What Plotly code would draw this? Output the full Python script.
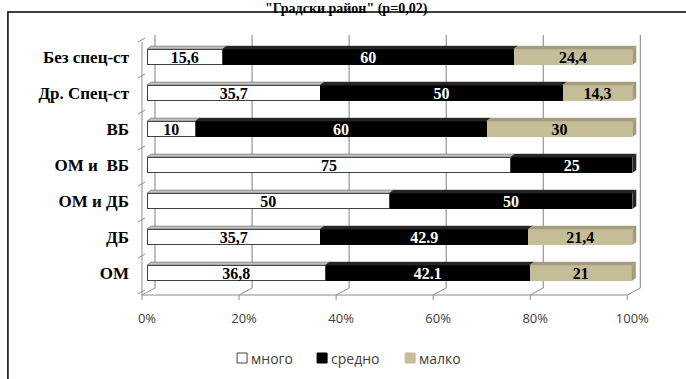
import plotly.graph_objects as go

# ---------------- data ----------------
categories = ["Без спец-ст", "Др. Спец-ст", "ВБ", "ОМ и  ВБ", "ОМ и ДБ", "ДБ", "ОМ"]
series_names = ["много", "средно", "малко"]
mnogo = [15.6, 35.7, 10, 75, 50, 35.7, 36.8]
sredno = [60, 50, 60, 25, 50, 42.9, 42.1]
malko = [24.4, 14.3, 30, 0, 0, 21.4, 21]
mnogo_lbl = ["15,6", "35,7", "10", "75", "50", "35,7", "36,8"]
sredno_lbl = ["60", "50", "60", "25", "50", "42.9", "42.1"]
malko_lbl = ["24,4", "14,3", "30", "", "", "21,4", "21"]
tick_vals = [0, 20, 40, 60, 80, 100]
tick_text = ["0%", "20%", "40%", "60%", "80%", "100%"]
title_text = '"Градски район" (р=0,02)'

# ---------------- layout geometry (pixels) ----------------
WIDTH, HEIGHT = 686, 379
X0PX, X100PX = 147, 632
UNIT = (X100PX - X0PX) / 100.0
XMAX = 102.0
L = X0PX
R = X0PX + XMAX * UNIT
T, B = 37, 292
PW, PH = R - L, B - T
n = len(categories)
ROW = 36.0
Y_TOP = -0.5 - (39 - T) / ROW
Y_BOT = Y_TOP + PH / ROW

def px(x):
    return (x - L) / PW

def py(y):
    return (B - y) / PH

values = [mnogo, sredno, malko]
labels = [mnogo_lbl, sredno_lbl, malko_lbl]
fills = ["#ffffff", "#000000", "#c4bd97"]
tops = ["#bfbfbf", "#262626", "#a49d7c"]
text_cols = ["#000000", "#ffffff", "#000000"]
line_cols = ["#404040", "#000000", "#c4bd97"]
line_w = [1, 0, 0]

BAR_W = 0.44
DX, DY = 8, 4
FX, FY = -5, 3
grid_col = "#808080"
edge_col = "#8c8c8c"
dxd = DX / UNIT * 0.5
dyd = 3 / ROW

fig = go.Figure()
for i in range(3):
    fig.add_trace(go.Bar(
        y=categories, x=values[i], name=series_names[i], orientation="h",
        marker=dict(color=fills[i], line=dict(color=line_cols[i], width=line_w[i])),
        width=BAR_W,
        text=labels[i], texttemplate="<b>%{text}</b>",
        textposition="inside", insidetextanchor="middle",
        textfont=dict(family="Liberation Serif", size=16, color=text_cols[i]),
        textangle=0, constraintext="none",
        hoverinfo="skip", showlegend=False,
    ))

shapes = []
shapes.append(dict(type="rect", xref="paper", yref="paper",
                   x0=px(8), x1=px(700), y0=py(400), y1=py(12),
                   line=dict(color="#000000", width=1.5), fillcolor="rgba(0,0,0,0)", layer="below"))

# back-wall gridlines (behind the bars)
for v in tick_vals:
    xg = px(X0PX + v * UNIT + DX)
    shapes.append(dict(type="path", xref="paper", yref="paper",
                       path=f"M {xg},{py(B - DY)} L {xg},{py(35)}",
                       line=dict(color=grid_col, width=1), layer="below"))

for v in tick_vals:
    xb = X0PX + v * UNIT
    shapes.append(dict(type="line", xref="paper", yref="paper",
                       x0=px(xb + FX), x1=px(xb + DX), y0=py(B + FY), y1=py(B - DY),
                       line=dict(color=edge_col, width=1), layer="above"))
    shapes.append(dict(type="line", xref="paper", yref="paper",
                       x0=px(xb + FX), x1=px(xb + FX), y0=py(B + FY), y1=py(B + FY + 5),
                       line=dict(color=edge_col, width=1), layer="above"))
shapes.append(dict(type="line", xref="paper", yref="paper",
                   x0=px(X0PX + FX), x1=px(X100PX + FX), y0=py(B + FY), y1=py(B + FY),
                   line=dict(color=edge_col, width=1), layer="above"))
shapes.append(dict(type="line", xref="paper", yref="paper",
                   x0=px(X0PX + FX), x1=px(X0PX + FX), y0=py(B + FY), y1=py(42),
                   line=dict(color=edge_col, width=1), layer="above"))
for k in range(n + 1):
    yb = 39 + k * ROW
    shapes.append(dict(type="line", xref="paper", yref="paper",
                       x0=px(X0PX + FX - 4), x1=px(X0PX + FX + 3), y0=py(yb + FY), y1=py(yb - 1),
                       line=dict(color=edge_col, width=1), layer="above"))

for r, cat in enumerate(categories):
    cum = 0
    last_end = None
    for i in range(3):
        v = values[i][r]
        if v <= 0:
            continue
        x0, x1 = cum, cum + v
        cum = x1
        yt = r - BAR_W / 2
        shapes.append(dict(type="path", xref="x", yref="y",
                           path=f"M {x0},{yt} L {x0+dxd},{yt-dyd} L {x1+dxd},{yt-dyd} L {x1},{yt} Z",
                           fillcolor=tops[i], line=dict(width=0.5, color="#595959" if i == 0 else tops[i]),
                           layer="above"))
        last_end = (x1, i)
    if last_end is not None:
        x1, i = last_end
        yt, yb = r - BAR_W / 2, r + BAR_W / 2
        shapes.append(dict(type="path", xref="x", yref="y",
                           path=f"M {x1},{yt} L {x1+dxd},{yt-dyd} L {x1+dxd},{yb-dyd} L {x1},{yb} Z",
                           fillcolor=tops[i], line=dict(width=0), layer="above"))

annotations = [dict(text="<b>" + title_text + "</b>", xref="paper", yref="paper",
                    x=px(346), y=py(0), xanchor="center", yanchor="top", showarrow=False,
                    borderpad=0,
                    font=dict(family="Liberation Serif", size=14, color="#000000"))]

leg_x = [237, 317, 405]
leg_y = 358
for i, name in enumerate(series_names):
    shapes.append(dict(type="rect", xref="paper", yref="paper",
                       x0=px(leg_x[i]), x1=px(leg_x[i] + 10), y0=py(leg_y + 5), y1=py(leg_y - 5),
                       fillcolor=fills[i], line=dict(color="#404040" if i == 0 else fills[i], width=1),
                       layer="above"))
    annotations.append(dict(text=name, xref="paper", yref="paper",
                            x=px(leg_x[i] + 13), y=py(leg_y), xanchor="left", yanchor="middle",
                            showarrow=False, borderpad=0,
                            font=dict(family="Open Sans", size=14, color="#404040")))

fig.update_layout(
    width=WIDTH, height=HEIGHT,
    margin=dict(l=L, r=WIDTH - R, t=T, b=HEIGHT - B, pad=0),
    paper_bgcolor="#ffffff", plot_bgcolor="rgba(0,0,0,0)",
    barmode="stack", bargap=0.5,
    showlegend=False,
    xaxis=dict(range=[0, XMAX], tickvals=tick_vals, ticktext=tick_text,
               showgrid=False, zeroline=False, showline=False, ticks="",
               ticklabelstandoff=17, fixedrange=True,
               tickfont=dict(family="Open Sans", size=13, color="#404040")),
    yaxis=dict(categoryorder="array", categoryarray=categories, range=[Y_BOT, Y_TOP],
               showgrid=False, zeroline=False, showline=False, ticks="",
               ticklabelstandoff=17, fixedrange=True,
               tickprefix="<b>", ticksuffix="</b>",
               tickfont=dict(family="Liberation Serif", size=17, color="#000000")),
    shapes=shapes, annotations=annotations,
)

fig.write_html("out.html")
